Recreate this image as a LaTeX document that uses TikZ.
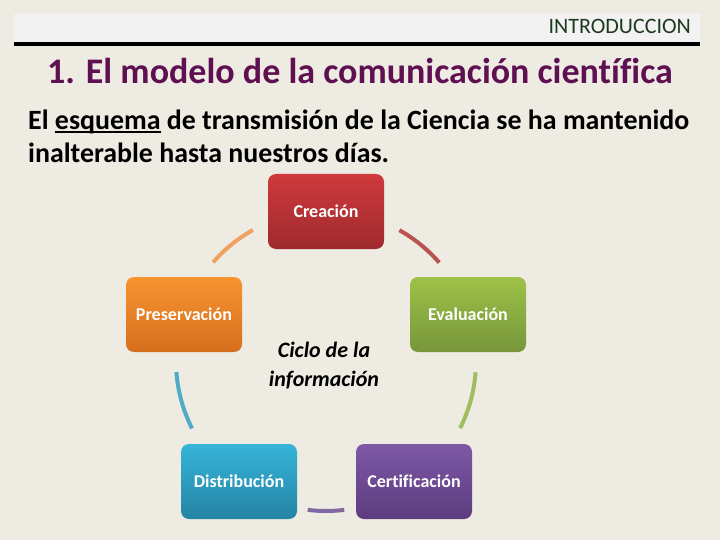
\documentclass[tikz,border=0pt]{standalone}
\usepackage{fontspec}
\setmainfont[Ligatures=NoCommon]{Carlito}
\usetikzlibrary{calc}
\definecolor{bg}{HTML}{EEEBE3}
\definecolor{hdr}{HTML}{F2F2F2}
\definecolor{hdrtxt}{HTML}{1E3A1E}
\definecolor{ttl}{HTML}{5E1050}
\definecolor{redT}{RGB}{208,57,60}\definecolor{redB}{RGB}{158,42,46}
\definecolor{orT}{RGB}{248,148,50}\definecolor{orB}{RGB}{214,110,28}
\definecolor{grT}{RGB}{158,194,72}\definecolor{grB}{RGB}{118,150,58}
\definecolor{blT}{RGB}{54,180,216}\definecolor{blB}{RGB}{36,132,164}
\definecolor{puT}{RGB}{126,88,166}\definecolor{puB}{RGB}{92,60,126}
\definecolor{arcO}{RGB}{240,160,96}\definecolor{arcR}{RGB}{186,82,82}
\definecolor{arcG}{RGB}{160,190,96}\definecolor{arcB}{RGB}{80,172,198}
\definecolor{arcP}{RGB}{130,104,162}
\newcommand\myul[1]{\setbox0\hbox{#1}\rlap{\rule[-2.6pt]{\wd0}{1.3pt}}\box0\relax}
\tikzset{
  box/.style={rounded corners=8pt, minimum width=116pt, minimum height=75pt, inner sep=0pt,
     text=white, font=\fontsize{18}{20}\selectfont\bfseries, shading=axis},
  arcline/.style={line width=4pt}
}
\begin{document}
\begin{tikzpicture}[x=1pt,y=-1pt]
\fill[bg] (0,0) rectangle (720,540);
\useasboundingbox (0,0) rectangle (720,540);
\fill[hdr] (14,14) rectangle (700,42);
\fill[black] (14,42) rectangle (700,46.5);
\node[anchor=base east, text=hdrtxt, font=\fontsize{22}{24}\selectfont, inner sep=0pt] (hdr) at (691,34) {INTRODUCCION};
\node[anchor=base, text=ttl, font=\fontsize{36}{40}\selectfont\bfseries, inner sep=0pt] (title) at (360,84) {1. El modelo de la comunicación científica};
\node[anchor=base west, font=\fontsize{27.9}{30}\selectfont\bfseries, inner sep=0pt] (sub1) at (28,130)
  {El \myul{esquema} de transmisión de la Ciencia se ha mantenido};
\node[anchor=base west, font=\fontsize{27.9}{30}\selectfont\bfseries, inner sep=0pt] (sub2) at (28,162.5)
  {inalterable hasta nuestros días.};
% boxes
\node[box, top color=redT, bottom color=redB] (crea) at (326,211.5) {Creación};
\node[box, top color=orT, bottom color=orB] (pres) at (184,314.5) {Preservación};
\node[box, top color=grT, bottom color=grB] (eval) at (468,314.5) {Evaluación};
\node[box, top color=blT, bottom color=blB] (dist) at (239,481.5) {Distribución};
\node[box, top color=puT, bottom color=puB] (cert) at (414,481.5) {Certificación};
% center text
\node[anchor=base, font=\fontsize{22}{24}\selectfont\bfseries\itshape, inner sep=0pt] (ciclo1) at (324,357) {Ciclo de la};
\node[anchor=base, font=\fontsize{22}{24}\selectfont\bfseries\itshape, inner sep=0pt] (ciclo2) at (324,386) {información};
% arcs
\coordinate (c) at (326,361);
\draw[arcline, arcO] ($(c)+(-138.8:150)$) arc[start angle=-138.8, end angle=-119.2, radius=150];
\draw[arcline, arcR] ($(c)+(-60.7:150)$) arc[start angle=-60.7, end angle=-41, radius=150];
\draw[arcline, arcG] ($(c)+(4.3:150)$) arc[start angle=4.3, end angle=26.6, radius=150];
\draw[arcline, arcP] ($(c)+(-263:150)$) arc[start angle=-263, end angle=-277, radius=150];
\draw[arcline, arcB] ($(c)+(-184.2:150)$) arc[start angle=-184.2, end angle=-206.7, radius=150];
\end{tikzpicture}
\end{document}
